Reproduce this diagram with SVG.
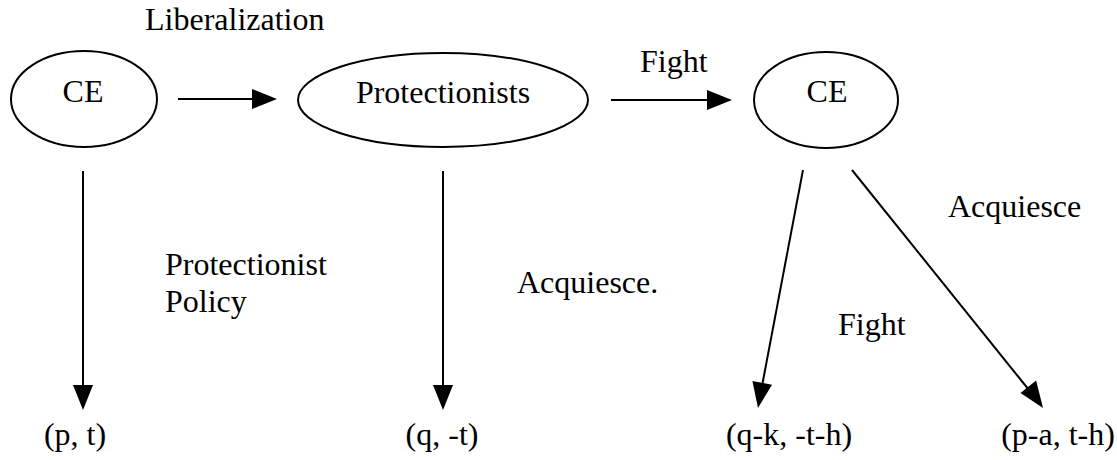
<svg xmlns="http://www.w3.org/2000/svg" width="1117" height="460" viewBox="0 0 1117 460">
<style>
.n{fill:none;stroke:#000;stroke-width:2}
.t{font-family:'Liberation Serif','Times New Roman',Times,serif;font-size:32px;fill:#000}
.l{stroke:#000;stroke-width:2}
.h{fill:#000}
</style>
<rect width="1117" height="460" fill="#fff"/>
<g id="ce1"><ellipse class="n" cx="84" cy="99" rx="73" ry="48"/><text class="t" x="83" y="102" text-anchor="middle">CE</text></g>
<g id="protectionists"><ellipse class="n" cx="443" cy="100" rx="145" ry="47"/><text class="t" x="443" y="103" text-anchor="middle">Protectionists</text></g>
<g id="ce2"><ellipse class="n" cx="826" cy="100" rx="72" ry="48"/><text class="t" x="827" y="102" text-anchor="middle">CE</text></g>
<g id="payoff1"><text class="t" x="75" y="445" text-anchor="middle">(p, t)</text></g>
<g id="payoff2"><text class="t" x="442" y="445" text-anchor="middle">(q, -t)</text></g>
<g id="payoff3"><text class="t" x="789" y="445" text-anchor="middle">(q-k, -t-h)</text></g>
<g id="payoff4"><text class="t" x="1058" y="445" text-anchor="middle">(p-a, t-h)</text></g>
<g id="connectors">
<line class="l" x1="178" y1="99" x2="255" y2="99"/>
<path class="h" d="M277,99 l-25,-10 v20 z"/>
<line class="l" x1="611" y1="100" x2="710" y2="100"/>
<path class="h" d="M732,100 l-25,-10 v20 z"/>
<line class="l" x1="83" y1="171" x2="83" y2="388"/>
<path class="h" d="M83,410 l-10,-25 h20 z"/>
<line class="l" x1="443" y1="171" x2="443" y2="388"/>
<path class="h" d="M443,410 l-10,-25 h20 z"/>
<line class="l" x1="803" y1="170" x2="762" y2="386"/>
<path class="h" d="M758,408 l-5.6,-27 l19.6,3.7 z"/>
<line class="l" x1="852" y1="170" x2="1029" y2="390"/>
<path class="h" d="M1043,408 l-22.5,-15 l15.6,-12.5 z"/>
<text class="t" x="145" y="30">Liberalization</text>
<text class="t" x="640" y="72">Fight</text>
<text class="t" x="165" y="275">Protectionist</text>
<text class="t" x="165" y="312">Policy</text>
<text class="t" x="517" y="293">Acquiesce.</text>
<text class="t" x="838" y="335">Fight</text>
<text class="t" x="948" y="217">Acquiesce</text>
</g>
</svg>
